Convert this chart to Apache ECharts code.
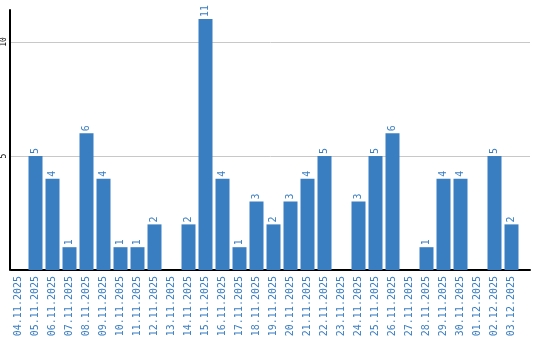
<!DOCTYPE html>
<html><head><meta charset="utf-8">
<script src="https://cdn.jsdelivr.net/npm/echarts@6/dist/echarts.min.js"></script>
<style>html,body{margin:0;padding:0;background:#fff}#c{width:540px;height:340px}</style>
</head><body><div id="c"></div>
<script>
const categories = ['04.11.2025','05.11.2025','06.11.2025','07.11.2025','08.11.2025','09.11.2025','10.11.2025','11.11.2025','12.11.2025','13.11.2025','14.11.2025','15.11.2025','16.11.2025','17.11.2025','18.11.2025','19.11.2025','20.11.2025','21.11.2025','22.11.2025','23.11.2025','24.11.2025','25.11.2025','26.11.2025','27.11.2025','28.11.2025','29.11.2025','30.11.2025','01.12.2025','02.12.2025','03.12.2025'];
const values = [0,5,4,1,6,4,1,1,2,0,2,11,4,1,3,2,3,4,5,0,3,5,6,0,1,4,4,0,5,2];
const yMax = 11.4;
const tickMax = 10;
const blue = '#3a7ec2';
const mono = 'DejaVu Sans Mono';
const chart = echarts.init(document.getElementById('c'));
chart.setOption({
  animation: false,
  grid: [
    {left: 10, right: 20, top: 10, bottom: 70},
    {left: 10, right: 10, top: 42, bottom: 70}
  ],
  xAxis: [
    {type: 'category', gridIndex: 0, data: categories,
     axisLine: {show: false}, axisTick: {show: false},
     axisLabel: {rotate: 90, interval: 0, color: blue, fontFamily: mono, fontSize: 10, margin: 6}},
    {type: 'value', gridIndex: 1, min: 0, max: 1,
     axisLine: {show: true, lineStyle: {color: '#000', width: 2}}, axisTick: {show: false},
     axisLabel: {show: false}, splitLine: {show: false}}
  ],
  yAxis: [
    {type: 'value', gridIndex: 0, min: 0, max: yMax, interval: 5,
     axisLine: {show: true, lineStyle: {color: '#000', width: 2}}, axisTick: {show: false},
     axisLabel: {show: false}, splitLine: {show: false}},
    {type: 'value', gridIndex: 1, min: 0, max: tickMax, interval: 5,
     axisLine: {show: false}, axisTick: {show: false},
     axisLabel: {rotate: 90, color: '#000', fontFamily: mono, fontSize: 8, margin: 3,
       formatter: v => v === 0 ? '' : String(v)},
     splitLine: {show: true, lineStyle: {color: '#c8c8c8', width: 1}}}
  ],
  series: [{
    type: 'bar', xAxisIndex: 0, yAxisIndex: 0,
    data: values.map(v => v === 0 ? null : v),
    barWidth: 14,
    itemStyle: {color: blue},
    label: {show: true, position: 'top', rotate: 90, align: 'left', verticalAlign: 'middle',
      distance: 2, color: blue, fontFamily: mono, fontSize: 10}
  }]
});
</script></body></html>
